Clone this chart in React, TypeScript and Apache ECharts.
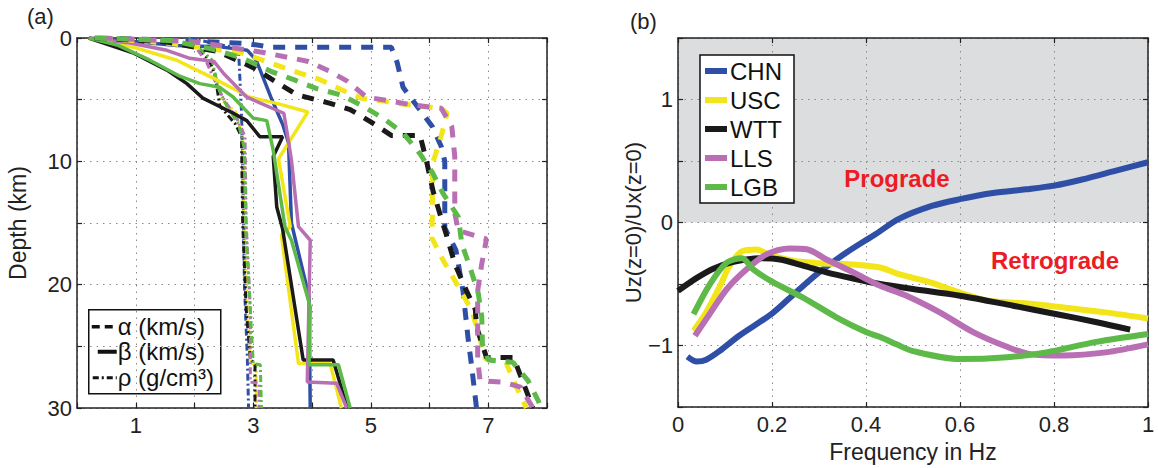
import React, { useEffect, useRef } from "react";
import * as echarts from "echarts";

const FONT = "Liberation Sans, Arial, Helvetica, sans-serif";

const MODELS = ["CHN", "USC", "WTT", "LLS", "LGB"];
const COLORS = ["#2f4fa6", "#f2e51a", "#1a1a1a", "#b86fb3", "#5db948"];

// ---------- Panel (a): profiles as [value, depth(km)] ----------
const chnAlpha = [[0.35, 0], [1.5, 0.15], [2.9, 0.45], [3.3, 0.75], [5.35, 0.75], [5.45, 2], [5.55, 4], [5.8, 5.6], [6.05, 7.2], [6.2, 8.8], [6.26, 10], [6.26, 15.4], [6.45, 17.2], [6.57, 20.5], [6.66, 24.5], [6.72, 26.7], [6.8, 30]];
const uscAlpha = [[0.4, 0], [1.5, 0.4], [2.8, 1.2], [3.7, 2.7], [4.15, 3.4], [4.5, 4.2], [4.85, 4.9], [5.2, 5.1], [5.6, 5.4], [6.2, 5.7], [6.3, 6.1], [6.18, 8.3], [6.05, 10.2], [6.05, 14.2], [6.04, 16.2], [6.23, 18], [6.46, 19.9], [6.72, 22.1], [6.85, 24.2], [6.95, 26], [7.3, 26.3], [7.48, 28.3], [7.65, 30]];
const wttAlpha = [[0.3, 0], [1.5, 0.3], [2.4, 1.1], [3.0, 2.4], [3.4, 3.6], [3.74, 4.6], [4.31, 5.3], [4.65, 5.8], [5.0, 6.8], [5.35, 7.9], [5.84, 7.9], [5.95, 10], [6.06, 12.4], [6.18, 14.3], [6.29, 16], [6.43, 18.3], [6.63, 20.5], [6.78, 22], [6.8, 23.4], [6.97, 25.9], [7.43, 25.9], [7.6, 28], [7.76, 30]];
const llsAlpha = [[0.4, 0], [2.0, 0.3], [3.2, 1.2], [3.94, 1.9], [4.3, 2.7], [4.6, 3.5], [4.93, 4.8], [5.33, 5.1], [5.67, 5.4], [6.2, 5.7], [6.38, 7.2], [6.43, 9.6], [6.43, 14.2], [6.49, 15.6], [6.97, 16.3], [6.89, 18.3], [6.82, 20.5], [6.82, 26], [6.86, 27.8], [7.25, 27.9], [7.55, 28.3], [7.76, 30]];
const lgbAlpha = [[0.3, 0], [1.6, 0.2], [2.3, 0.9], [2.8, 1.6], [3.3, 2.7], [3.7, 3.4], [4.08, 4.1], [4.48, 4.6], [4.82, 5.4], [5.21, 6.5], [5.55, 7.7], [5.84, 9.4], [6.06, 11], [6.23, 12.6], [6.49, 14.5], [6.55, 16.7], [6.69, 18.6], [6.83, 20.7], [6.89, 22.6], [6.9, 24.8], [7.0, 26.1], [7.42, 26.3], [7.68, 27.8], [7.85, 29.4], [7.9, 30]];

const chnBeta = [[0.2, 0], [1.0, 0.3], [1.7, 0.6], [2.4, 0.7], [2.9, 1], [3.05, 1.8], [3.3, 4.8], [3.5, 7], [3.6, 8.5], [3.65, 15], [3.95, 21], [3.97, 30]];
const uscBeta = [[0.2, 0], [1.0, 0.8], [1.7, 1.8], [2.04, 2.6], [2.38, 3.4], [2.94, 4.8], [3.4, 5.3], [3.93, 6], [3.43, 9.8], [3.63, 15.3], [3.48, 16], [3.77, 26.4], [4.31, 26.4], [4.5, 30]];
const wttBeta = [[0.2, 0], [0.95, 1.2], [1.53, 2.6], [1.87, 3.7], [2.15, 4.9], [2.66, 6.1], [2.89, 6.7], [3.11, 8], [3.5, 8], [3.34, 9.6], [3.4, 13.7], [3.5, 15.5], [3.85, 26.1], [4.36, 26.1], [4.6, 30]];
const llsBeta = [[0.2, 0], [0.9, 0.4], [1.53, 1], [1.92, 1.65], [2.33, 1.9], [2.5, 2.9], [2.89, 4.8], [3.52, 6.1], [3.57, 7.5], [3.65, 9.9], [3.77, 15.3], [3.97, 16.4], [3.92, 27.9], [4.42, 28], [4.59, 30]];
const lgbBeta = [[0.2, 0], [0.7, 0.6], [1.24, 1.8], [1.75, 3.1], [2.09, 3.7], [2.43, 4], [2.66, 4.8], [3.0, 6.5], [3.23, 6.7], [3.34, 9.1], [3.54, 15.3], [3.65, 16.4], [3.97, 21.8], [3.95, 26.5], [4.45, 26.5], [4.65, 30]];

const chnRho = [[1.9, 0], [2.6, 0.7], [2.75, 1], [2.8, 6], [2.82, 10], [2.85, 20], [2.9, 26], [2.92, 30]];
const uscRho = [[1.9, 0], [2.3, 2], [2.45, 5], [2.7, 6], [2.82, 8], [2.84, 15], [2.9, 22], [2.95, 26.3], [3.05, 26.5], [3.05, 30]];
const wttRho = [[1.9, 0], [2.25, 1.8], [2.35, 3], [2.43, 5.5], [2.7, 7], [2.8, 8], [2.82, 15], [2.88, 22], [2.95, 26], [3.03, 26.5], [3.03, 30]];
const llsRho = [[1.9, 0], [2.2, 1.9], [2.3, 3], [2.5, 5], [2.72, 6.5], [2.86, 8], [2.88, 15], [2.95, 22], [2.95, 27.9], [3.1, 28], [3.1, 30]];
const lgbRho = [[1.9, 0], [2.3, 1.8], [2.4, 4], [2.55, 5.5], [2.75, 7], [2.85, 9], [2.88, 16], [2.95, 22], [3.0, 26.4], [3.12, 26.5], [3.14, 30]];

const ALPHA = [chnAlpha, uscAlpha, wttAlpha, llsAlpha, lgbAlpha];
const BETA = [chnBeta, uscBeta, wttBeta, llsBeta, lgbBeta];
const RHO = [chnRho, uscRho, wttRho, llsRho, lgbRho];

// ---------- Panel (b): Uz/Ux vs frequency ----------
const freqCHN = [0.02, 0.04, 0.06, 0.09, 0.13, 0.2, 0.25, 0.3, 0.36, 0.42, 0.47, 0.54, 0.6, 0.67, 0.74, 0.8, 0.86, 0.93, 1.0];
const ratioCHN = [-1.09, -1.13, -1.115, -1.04, -0.92, -0.74, -0.57, -0.405, -0.24, -0.095, 0.03, 0.135, 0.19, 0.24, 0.27, 0.3, 0.35, 0.42, 0.49];
const freqUSC = [0.033, 0.06, 0.09, 0.11, 0.136, 0.167, 0.196, 0.245, 0.3, 0.37, 0.43, 0.47, 0.54, 0.6, 0.66, 0.75, 0.82, 0.91, 1.0];
const ratioUSC = [-0.88, -0.73, -0.51, -0.35, -0.235, -0.22, -0.265, -0.31, -0.33, -0.34, -0.365, -0.42, -0.49, -0.57, -0.635, -0.66, -0.69, -0.73, -0.78];
const freqWTT = [0, 0.04, 0.075, 0.118, 0.174, 0.217, 0.266, 0.316, 0.373, 0.43, 0.5, 0.6, 0.713, 0.806, 0.891, 0.962];
const ratioWTT = [-0.555, -0.45, -0.375, -0.32, -0.29, -0.3, -0.35, -0.405, -0.455, -0.5, -0.54, -0.595, -0.676, -0.745, -0.81, -0.87];
const freqLLS = [0.036, 0.065, 0.104, 0.146, 0.189, 0.238, 0.274, 0.316, 0.373, 0.43, 0.486, 0.557, 0.628, 0.7, 0.75, 0.82, 0.91, 1.0];
const ratioLLS = [-0.92, -0.757, -0.54, -0.38, -0.257, -0.21, -0.217, -0.3, -0.405, -0.514, -0.595, -0.73, -0.89, -1.01, -1.07, -1.08, -1.055, -0.99];
const freqLGB = [0.033, 0.068, 0.104, 0.136, 0.16, 0.203, 0.266, 0.337, 0.4, 0.43, 0.465, 0.5, 0.6, 0.7, 0.784, 0.89, 1.0];
const ratioLGB = [-0.745, -0.5, -0.325, -0.29, -0.38, -0.487, -0.61, -0.77, -0.89, -0.93, -0.99, -1.045, -1.11, -1.095, -1.055, -0.97, -0.906];

const FREQ = [freqCHN, freqUSC, freqWTT, freqLLS, freqLGB];
const RATIO = [ratioCHN, ratioUSC, ratioWTT, ratioLLS, ratioLGB];

const prograde = [[0, 1.5], [1, 1.5]];

function axisBase(extra: any) {
  return {
    type: "value",
    axisLine: { show: true, onZero: false, lineStyle: { color: "#222", width: 1.5 } },
    axisTick: { show: true, inside: true, length: 5, lineStyle: { color: "#222", width: 1.2 } },
    axisLabel: { color: "#222", fontSize: 22, fontFamily: FONT },
    splitLine: { show: true, lineStyle: { color: "#8a8a8a", type: [1.5, 5], width: 1 } },
    z: 1,
    ...extra,
  };
}
function mirror(extra: any) {
  return axisBase({ axisLabel: { show: false }, splitLine: { show: false }, ...extra });
}

export default function App() {
  const ref = useRef<HTMLDivElement>(null);
  useEffect(() => {
    if (!ref.current) return;
    const chart = echarts.init(ref.current, undefined, { renderer: "svg" });

    const series: any[] = [];
    MODELS.forEach((m, i) => {
      series.push({
        name: m + " ρ", type: "line", xAxisIndex: 0, yAxisIndex: 0, data: RHO[i],
        symbol: "none", itemStyle: { color: COLORS[i] },
        lineStyle: { color: COLORS[i], width: 3, type: [7, 3, 2, 3] }, z: 2,
      });
    });
    MODELS.forEach((m, i) => {
      series.push({
        name: m + " β", type: "line", xAxisIndex: 0, yAxisIndex: 0, data: BETA[i],
        symbol: "none", itemStyle: { color: COLORS[i] },
        lineStyle: { color: COLORS[i], width: 3.5 }, z: 3,
      });
    });
    MODELS.forEach((m, i) => {
      series.push({
        name: m + " α", type: "line", xAxisIndex: 0, yAxisIndex: 0, data: ALPHA[i],
        symbol: "none", itemStyle: { color: COLORS[i] },
        lineStyle: { color: COLORS[i], width: 5, type: [12, 10] }, z: 4,
      });
    });
    series.push({
      name: "Prograde area", type: "line", xAxisIndex: 2, yAxisIndex: 2, data: prograde,
      symbol: "none", silent: true, lineStyle: { width: 0 }, itemStyle: { color: "#dcdddf" },
      areaStyle: { color: "#dcdddf", opacity: 1, origin: 0 }, z: 0,
    });
    MODELS.forEach((m, i) => {
      series.push({
        name: m, type: "line", xAxisIndex: 2, yAxisIndex: 2,
        data: FREQ[i].map((f, k) => [f, RATIO[i][k]]),
        symbol: "none", smooth: 0.3, itemStyle: { color: COLORS[i] },
        lineStyle: { color: COLORS[i], width: 6 }, z: 3 + i * 0.1,
      });
    });

    const option: any = {
      animation: false,
      backgroundColor: "#fff",
      textStyle: { fontFamily: FONT },
      grid: [
        { left: 77, top: 38, width: 470, height: 370, containLabel: false },
        { left: 678, top: 38, width: 470, height: 370, containLabel: false },
      ],
      xAxis: [
        axisBase({
          gridIndex: 0, position: "bottom", min: 0, max: 8, interval: 1,
          axisLabel: { color: "#222", fontSize: 22, fontFamily: FONT, margin: 6,
            formatter: (v: number) => (Math.round(v) % 2 === 1 ? String(Math.round(v)) : "") },
        }),
        mirror({ gridIndex: 0, position: "top", min: 0, max: 8, interval: 1 }),
        axisBase({
          gridIndex: 1, position: "bottom", min: 0, max: 1, interval: 0.2,
          name: "Frequency in Hz", nameLocation: "middle", nameGap: 30,
          nameTextStyle: { color: "#222", fontSize: 23, fontFamily: FONT, verticalAlign: "top" },
          axisLabel: { color: "#222", fontSize: 22, fontFamily: FONT, margin: 6,
            formatter: (v: number) => {
              const r = Math.round(v * 10) / 10;
              return r === 0 ? "0" : r === 1 ? "1" : r.toFixed(1);
            } },
        }),
        mirror({ gridIndex: 1, position: "top", min: 0, max: 1, interval: 0.2 }),
      ],
      yAxis: [
        axisBase({
          gridIndex: 0, position: "left", min: 0, max: 30, interval: 5, inverse: true,
          name: "Depth (km)", nameLocation: "middle", nameGap: 48, nameRotate: 90,
          nameTextStyle: { color: "#222", fontSize: 23, fontFamily: FONT },
          axisLabel: { color: "#222", fontSize: 22, fontFamily: FONT, margin: 5,
            formatter: (v: number) => (Math.round(v) % 10 === 0 ? String(Math.round(v)) : "") },
        }),
        mirror({ gridIndex: 0, position: "right", min: 0, max: 30, interval: 5, inverse: true }),
        axisBase({
          gridIndex: 1, position: "left", min: -1.5, max: 1.5, interval: 0.5,
          name: "Uz(z=0)/Ux(z=0)", nameLocation: "middle", nameGap: 30, nameRotate: 90,
          nameTextStyle: { color: "#222", fontSize: 22, fontFamily: FONT },
          axisLabel: { color: "#222", fontSize: 22, fontFamily: FONT, margin: 5,
            formatter: (v: number) => {
              const r = Math.round(v * 10) / 10;
              return r === -1 ? "\u22121" : r === 0 ? "0" : r === 1 ? "1" : "";
            } },
        }),
        mirror({ gridIndex: 1, position: "right", min: -1.5, max: 1.5, interval: 0.5 }),
      ],
      legend: {
        data: MODELS,
        orient: "vertical",
        left: 700, top: 55,
        icon: "rect", itemWidth: 22, itemHeight: 6, itemGap: 5,
        padding: [4, 12, 4, 5],
        backgroundColor: "#fff", borderColor: "#111", borderWidth: 1.5,
        textStyle: { color: "#111", fontSize: 24, fontFamily: FONT, padding: [0, 0, 0, -2] },
        selectedMode: false,
      },
      graphic: [
        { type: "text", left: 27, top: 5, style: { text: "(a)", fontSize: 22, fontFamily: FONT, fill: "#222" } },
        { type: "text", left: 630, top: 10, style: { text: "(b)", fontSize: 22, fontFamily: FONT, fill: "#222" } },
        { type: "text", x: 897, y: 178, style: { text: "Prograde", fontSize: 24, fontWeight: "bold", fontFamily: FONT, fill: "#ec1c24", align: "center", verticalAlign: "middle" }, z: 10 },
        { type: "text", x: 1055, y: 260, style: { text: "Retrograde", fontSize: 24, fontWeight: "bold", fontFamily: FONT, fill: "#ec1c24", align: "center", verticalAlign: "middle" }, z: 10 },
        {
          type: "group", left: 88, top: 309, z: 10,
          children: [
            { type: "rect", shape: { x: 0, y: 0, width: 132, height: 84 }, style: { fill: "#fff", stroke: "#111", lineWidth: 1.5 } },
            { type: "line", shape: { x1: 3, y1: 17, x2: 28, y2: 17 }, style: { stroke: "#111", lineWidth: 3.5, lineDash: [8, 5] } },
            { type: "line", shape: { x1: 9, y1: 42, x2: 28, y2: 42 }, style: { stroke: "#111", lineWidth: 4 } },
            { type: "line", shape: { x1: 4, y1: 68, x2: 28, y2: 68 }, style: { stroke: "#111", lineWidth: 3, lineDash: [6, 3, 2, 3] } },
            { type: "text", x: 29, y: 17, style: { text: "α (km/s)", fontSize: 24, fontFamily: FONT, fill: "#111", verticalAlign: "middle" } },
            { type: "text", x: 29, y: 42, style: { text: "β (km/s)", fontSize: 24, fontFamily: FONT, fill: "#111", verticalAlign: "middle" } },
            { type: "text", x: 29, y: 68, style: { text: "ρ (g/cm³)", fontSize: 24, fontFamily: FONT, fill: "#111", verticalAlign: "middle" } },
          ],
        },
      ],
      series,
    };
    chart.setOption(option);
    return () => chart.dispose();
  }, []);
  return (
    <div
      ref={ref}
      style={{ position: "fixed", left: 0, top: 0, width: 1158, height: 468, background: "#fff" }}
    />
  );
}
